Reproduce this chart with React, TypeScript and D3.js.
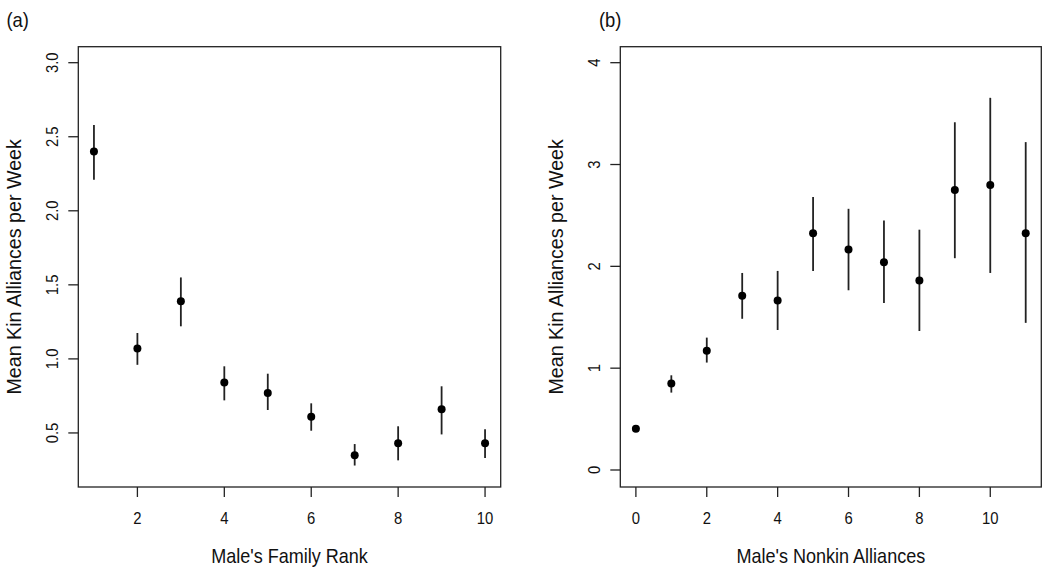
import React from "react";
import * as d3 from "d3";

// Panel (a): Male's family rank
const rankX = [1, 2, 3, 4, 5, 6, 7, 8, 9, 10];
const rankMean = [2.40, 1.07, 1.39, 0.84, 0.77, 0.61, 0.35, 0.43, 0.66, 0.43];
const rankUpper = [2.58, 1.175, 1.55, 0.95, 0.90, 0.70, 0.425, 0.545, 0.815, 0.525];
const rankLower = [2.21, 0.96, 1.22, 0.72, 0.655, 0.515, 0.28, 0.315, 0.49, 0.33];
const rankXTicks = [2, 4, 6, 8, 10];
const rankYTicks = [0.5, 1.0, 1.5, 2.0, 2.5, 3.0];

// Panel (b): Male's nonkin alliances
const nonkinX = [0, 1, 2, 3, 4, 5, 6, 7, 8, 9, 10, 11];
const nonkinMean = [0.405, 0.85, 1.17, 1.71, 1.665, 2.325, 2.165, 2.04, 1.86, 2.75, 2.80, 2.325];
const nonkinUpper = [0.43, 0.93, 1.30, 1.935, 1.955, 2.68, 2.565, 2.45, 2.36, 3.415, 3.655, 3.22];
const nonkinLower = [0.38, 0.76, 1.055, 1.485, 1.375, 1.955, 1.765, 1.64, 1.365, 2.08, 1.935, 1.445];
const nonkinXTicks = [0, 2, 4, 6, 8, 10];
const nonkinYTicks = [0, 1, 2, 3, 4];

const FONT = "'Liberation Sans', Arial, Helvetica, sans-serif";
const INK = "#111";

type PanelProps = {
  tag: string;
  tagX: number;
  xs: number[];
  mean: number[];
  upper: number[];
  lower: number[];
  xTicks: number[];
  yTicks: number[];
  yFmt: (v: number) => string;
  xDomain: [number, number];
  yDomain: [number, number];
  left: number;
  right: number;
  xTitle: string;
  yTitle: string;
};

const TOP = 46.7;
const BOTTOM = 487;

function Panel(p: PanelProps) {
  const x = d3.scaleLinear().domain(p.xDomain).range([p.left, p.right]);
  const y = d3.scaleLinear().domain(p.yDomain).range([BOTTOM, TOP]);
  const tickLen = 10;
  const cx = (p.left + p.right) / 2;
  const cy = (TOP + BOTTOM) / 2;
  return (
    <g fontFamily={FONT} fill={INK}>
      <text transform={`translate(${p.tagX},27) scale(0.92,1)`} fontSize={20}>
        {p.tag}
      </text>
      <rect
        x={p.left}
        y={TOP}
        width={p.right - p.left}
        height={BOTTOM - TOP}
        fill="none"
        stroke="#222"
        strokeWidth={1.3}
      />
      {p.xTicks.map((t) => (
        <g key={"xt" + t}>
          <line x1={x(t)} x2={x(t)} y1={BOTTOM} y2={BOTTOM + tickLen} stroke="#222" strokeWidth={1.3} />
          <text
            transform={`translate(${x(t)},524) scale(0.9,1)`}
            textAnchor="middle"
            fontSize={16.5}
          >
            {t}
          </text>
        </g>
      ))}
      {p.yTicks.map((t) => (
        <g key={"yt" + t}>
          <line x1={p.left - tickLen} x2={p.left} y1={y(t)} y2={y(t)} stroke="#222" strokeWidth={1.3} />
          <text
            transform={`translate(${p.left - 20},${y(t)}) rotate(-90) scale(0.9,1)`}
            textAnchor="middle"
            fontSize={16.5}
          >
            {p.yFmt(t)}
          </text>
        </g>
      ))}
      <text transform={`translate(${cx},563.3) scale(0.88,1)`} textAnchor="middle" fontSize={20.5}>
        {p.xTitle}
      </text>
      <text
        transform={`translate(${p.left - 57},${cy}) rotate(-90) scale(0.96,1)`}
        textAnchor="middle"
        fontSize={20.5}
      >
        {p.yTitle}
      </text>
      {p.xs.map((v, i) => (
        <g key={"pt" + i}>
          <line
            x1={x(v)}
            x2={x(v)}
            y1={y(p.lower[i])}
            y2={y(p.upper[i])}
            stroke="#222"
            strokeWidth={1.8}
          />
          <circle cx={x(v)} cy={y(p.mean[i])} r={4} fill="#000" />
        </g>
      ))}
    </g>
  );
}

export default function App() {
  return (
    <svg
      width={1050}
      height={577}
      style={{ position: "absolute", left: 0, top: 0, background: "#fff" }}
    >
      <rect x={0} y={0} width={1050} height={577} fill="#fff" />
      <Panel
        tag="(a)"
        tagX={6.5}
        xs={rankX}
        mean={rankMean}
        upper={rankUpper}
        lower={rankLower}
        xTicks={rankXTicks}
        yTicks={rankYTicks}
        yFmt={d3.format(".1f")}
        xDomain={[0.64, 10.36]}
        yDomain={[0.135, 3.108]}
        left={78.3}
        right={500.7}
        xTitle="Male's Family Rank"
        yTitle="Mean Kin Alliances per Week"
      />
      <Panel
        tag="(b)"
        tagX={599}
        xs={nonkinX}
        mean={nonkinMean}
        upper={nonkinUpper}
        lower={nonkinLower}
        xTicks={nonkinXTicks}
        yTicks={nonkinYTicks}
        yFmt={d3.format("d")}
        xDomain={[-0.44, 11.44]}
        yDomain={[-0.167, 4.157]}
        left={620.3}
        right={1041.3}
        xTitle="Male's Nonkin Alliances"
        yTitle="Mean Kin Alliances per Week"
      />
    </svg>
  );
}
